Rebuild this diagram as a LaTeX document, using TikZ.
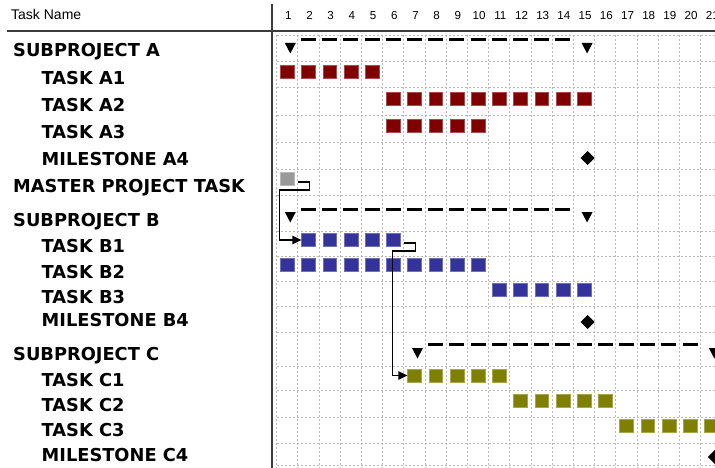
\documentclass[tikz,border=0pt]{standalone}
\usepackage{fontspec}
\setmainfont{DejaVu Sans}
\newfontfamily\hdrfont{Liberation Sans}
\usetikzlibrary{arrows.meta}
\definecolor{ared}{RGB}{128,0,0}
\definecolor{bblue}{RGB}{51,51,153}
\definecolor{colive}{RGB}{128,128,0}
\definecolor{mgray}{RGB}{153,153,153}
\definecolor{gridc}{RGB}{185,185,185}
\definecolor{rulec}{RGB}{60,60,60}
\begin{document}
\begin{tikzpicture}[x=1pt,y=-1pt,
  lbl/.style={anchor=base west, inner sep=0pt, font=\fontsize{17.8}{18}\selectfont\bfseries},
  hdr/.style={anchor=base, inner sep=0pt, font=\hdrfont\fontsize{11.6}{12}\selectfont},
  hdrl/.style={anchor=base west, inner sep=0pt, font=\hdrfont\fontsize{14}{15}\selectfont},
  sq/.style={minimum width=13.8pt, minimum height=12.8pt, inner sep=0pt, draw=#1!70!white, line width=0.5pt, fill=#1},
  gridl/.style={gridc, line width=0.9pt, dash pattern=on 2pt off 2pt},
  sumdash/.style={line width=3pt},
  tri/.style={fill=black},
  conn/.style={line width=1.3pt, -{Triangle[length=9pt,width=8.5pt]}}
]
\useasboundingbox (0,0) rectangle (715,468);
\clip (0,0) rectangle (715,468);
\fill[white] (0,0) rectangle (715,468);
% grid
\foreach \k in {0,...,21} {
  \draw[gridl] ({276.7+21.2*\k},35) -- ({276.7+21.2*\k},468);
}
\foreach \yy in {35,61,87.7,115,142.3,169,195,231.7,256,281.7,306.7,332,366.3,390.7,417,443,465} {
  \draw[gridl] (276.7,\yy) -- (715,\yy);
}
% header
\draw[rulec, line width=2pt] (7,31) -- (715,31);
\draw[rulec, line width=2pt] (271.5,4) -- (271.5,468);
\node[hdrl] (hname) at (11,20) {Task Name};
\foreach \k in {1,...,21} {
  \node[hdr] (num\k) at ({267.1+21.2*\k},20) {\k};
}
% labels
\node[lbl] (lSA) at (13,56.7) {SUBPROJECT A};
\node[lbl] (lA1) at (41.5,85) {TASK A1};
\node[lbl] (lA2) at (41.5,111.7) {TASK A2};
\node[lbl] (lA3) at (41.5,139) {TASK A3};
\node[lbl] (lA4) at (41.5,166) {MILESTONE A4};
\node[lbl] (lM) at (13,192.7) {MASTER PROJECT TASK};
\node[lbl] (lSB) at (13,226) {SUBPROJECT B};
\node[lbl] (lB1) at (41.5,252.7) {TASK B1};
\node[lbl] (lB2) at (41.5,278.3) {TASK B2};
\node[lbl] (lB3) at (41.5,303.3) {TASK B3};
\node[lbl] (lB4) at (41.5,326.7) {MILESTONE B4};
\node[lbl] (lSC) at (13,360.7) {SUBPROJECT C};
\node[lbl] (lC1) at (41.5,386) {TASK C1};
\node[lbl] (lC2) at (41.5,411.7) {TASK C2};
\node[lbl] (lC3) at (41.5,436.7) {TASK C3};
\node[lbl] (lC4) at (41.5,461.7) {MILESTONE C4};
% bars
\foreach \k in {1,...,5}  { \node[sq=ared] (A1-\k) at ({266.1+21.2*\k},72) {}; }
\foreach \k in {6,...,15} { \node[sq=ared] (A2-\k) at ({266.1+21.2*\k},98.5) {}; }
\foreach \k in {6,...,10} { \node[sq=ared] (A3-\k) at ({266.1+21.2*\k},125.5) {}; }
\node[sq=mgray] (M) at (287.3,179) {};
\foreach \k in {2,...,6}  { \node[sq=bblue] (B1-\k) at ({266.1+21.2*\k},240) {}; }
\foreach \k in {1,...,10} { \node[sq=bblue] (B2-\k) at ({266.1+21.2*\k},264.5) {}; }
\foreach \k in {11,...,15} { \node[sq=bblue] (B3-\k) at ({266.1+21.2*\k},290) {}; }
\foreach \k in {7,...,11} { \node[sq=colive] (C1-\k) at ({266.1+21.2*\k},375.5) {}; }
\foreach \k in {12,...,16} { \node[sq=colive] (C2-\k) at ({266.1+21.2*\k},401) {}; }
\foreach \k in {17,...,21} { \node[sq=colive] (C3-\k) at ({266.1+21.2*\k},426) {}; }
% summary dashes
\foreach \k in {2,...,14} {
  \draw[sumdash] ({266.1+21.2*\k-7.5},39.5) -- ++(15,0);
  \draw[sumdash] ({266.1+21.2*\k-7.5},209) -- ++(15,0);
}
\foreach \k in {8,...,20} {
  \draw[sumdash] ({266.1+21.2*\k-7.5},344.5) -- ++(15,0);
}
% summary triangles
\foreach \k/\yy in {1/43,15/43,1/212,15/212,7/348,21/348} {
  \fill[tri] ({266.1+21.2*\k+3-5.5},\yy) -- ++(11,0) -- ++(-5.5,10.5) -- cycle;
}
% milestones
\foreach \k/\yy in {15/158,15/322,21/457} {
  \fill ({266.1+21.2*\k+3.6},\yy) ++(-7,0) -- ++(7,-7) -- ++(7,7) -- ++(-7,7) -- cycle;
}
% connectors
\draw[conn] ([shift={(4,3)}]M.east) -- ++(11,0) -- ++(0,8) -- ++(-30,0) |- (B1-2.west);
\draw[conn] ([shift={(4,3)}]B1-6.east) -- ++(11,0) -- ++(0,8) -- ++(-23,0) |- (C1-7.west);
\end{tikzpicture}
\end{document}
